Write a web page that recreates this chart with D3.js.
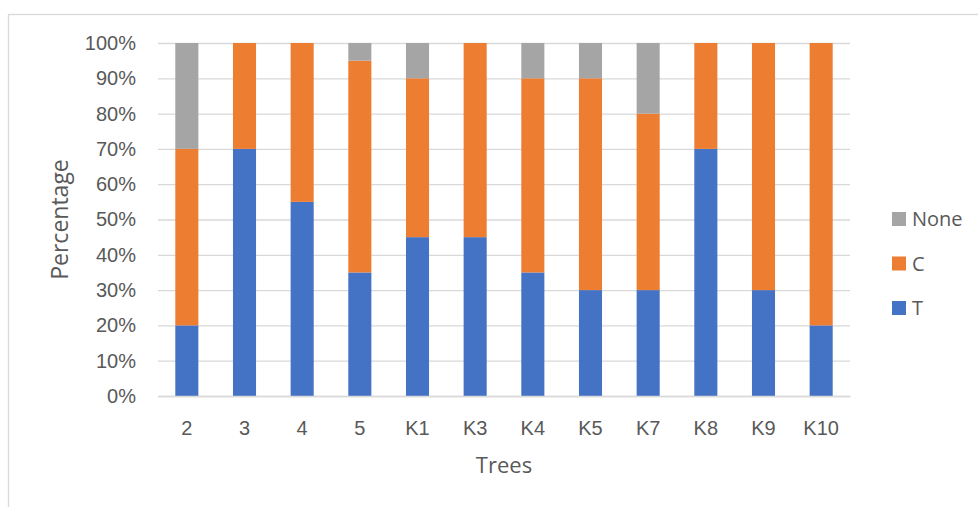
<!DOCTYPE html>
<html>
<head>
<meta charset="utf-8">
<script src="https://cdn.jsdelivr.net/npm/d3@7"></script>
<style>
  html, body { margin: 0; padding: 0; background: #fff; }
  svg { display: block; font-family: "Open Sans", "Liberation Sans", sans-serif; }
</style>
</head>
<body>
<svg id="chart" width="978" height="507"></svg>
<script>
// Tree categories and percentage shares per class
const trees = ["2", "3", "4", "5", "K1", "K3", "K4", "K5", "K7", "K8", "K9", "K10"];
const tValues    = [20, 70, 55, 35, 45, 45, 35, 30, 30, 70, 30, 20];
const cValues    = [50, 30, 45, 60, 45, 55, 55, 60, 50, 30, 70, 80];
const noneValues = [30, 0, 0, 5, 10, 0, 10, 10, 20, 0, 0, 0];
const seriesNames = ["T", "C", "None"];
const seriesColors = ["#4472C4", "#ED7D31", "#A5A5A5"];
const yTicks = [0, 10, 20, 30, 40, 50, 60, 70, 80, 90, 100];

const svg = d3.select("#chart");
const W = 978, H = 507;
const plot = { left: 158, right: 850, top: 43, bottom: 396 };

// chart border
svg.append("rect")
  .attr("x", 8.5).attr("y", 14.5)
  .attr("width", W + 20).attr("height", H + 20)
  .attr("fill", "none").attr("stroke", "#d9d9d9").attr("stroke-width", 1.3);

const rows = trees.map((t, i) => ({ tree: t, T: tValues[i], C: cValues[i], None: noneValues[i] }));
const stack = d3.stack().keys(seriesNames)(rows);

const x = d3.scaleBand().domain(trees).range([plot.left, plot.right]).paddingInner(0.6).paddingOuter(0.3);
const y = d3.scaleLinear().domain([0, 100]).range([plot.bottom, plot.top]);
const color = d3.scaleOrdinal().domain(seriesNames).range(seriesColors);

// gridlines and percentage labels
const yAxis = d3.axisLeft(y).tickValues(yTicks).tickFormat(d => d + "%")
  .tickSize(-(plot.right - plot.left)).tickPadding(22);
const gy = svg.append("g").attr("transform", `translate(${plot.left},0)`).call(yAxis);
gy.select(".domain").remove();
gy.selectAll(".tick line").attr("stroke", "#d9d9d9").attr("stroke-width", 1.3);
gy.selectAll(".tick text").attr("fill", "#595959").attr("font-size", 20);

// stacked bars
svg.append("g").selectAll("g").data(stack).join("g")
  .attr("fill", d => color(d.key))
  .selectAll("rect").data(d => d).join("rect")
  .attr("x", d => x(d.data.tree))
  .attr("y", d => y(d[1]))
  .attr("width", x.bandwidth())
  .attr("height", d => y(d[0]) - y(d[1]));

// category axis
const xAxis = d3.axisBottom(x).tickSize(0).tickPadding(25);
const gx = svg.append("g").attr("transform", `translate(0,${plot.bottom})`).call(xAxis);
gx.select(".domain").attr("stroke", "#d9d9d9").attr("stroke-width", 1.3);
gx.selectAll(".tick text").attr("fill", "#595959").attr("font-size", 20);

// axis titles
svg.append("text")
  .attr("x", (plot.left + plot.right) / 2).attr("y", 473)
  .attr("text-anchor", "middle").attr("fill", "#595959").attr("font-size", 22)
  .text("Trees");
svg.append("text")
  .attr("transform", `translate(68,${(plot.top + plot.bottom) / 2}) rotate(-90)`)
  .attr("text-anchor", "middle").attr("fill", "#595959").attr("font-size", 23)
  .text("Percentage");

// legend (None on top, T at bottom)
const legendOrder = ["None", "C", "T"];
const lg = svg.append("g").selectAll("g").data(legendOrder).join("g")
  .attr("transform", (d, i) => `translate(892,${219 + i * 44.5})`);
lg.append("rect").attr("x", 0).attr("y", -7).attr("width", 14).attr("height", 14)
  .attr("fill", d => color(d));
lg.append("text").attr("x", 20).attr("y", 0).attr("dy", "0.35em")
  .attr("fill", "#595959").attr("font-size", 20).text(d => d);
</script>
</body>
</html>
